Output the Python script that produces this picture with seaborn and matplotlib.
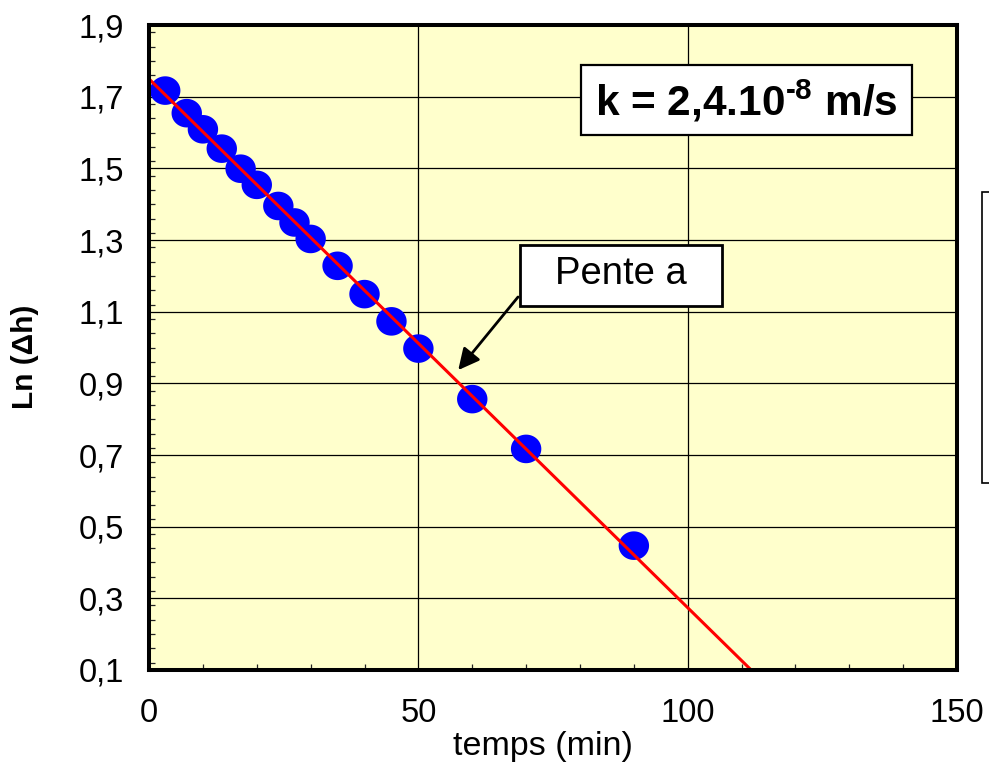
import numpy as np
import pandas as pd
import matplotlib
matplotlib.use("Agg")
import matplotlib.pyplot as plt
from matplotlib.patches import Rectangle
from matplotlib.path import Path
from matplotlib.ticker import FixedLocator, MultipleLocator
import seaborn as sns

# Falling-head test: ln of the head difference against time
temps_min = [3, 7, 10, 13.5, 17, 20, 24, 27, 30, 35, 40, 45, 50, 60, 70, 90]
ln_dh = [1.717, 1.654, 1.609, 1.555, 1.499, 1.454, 1.395, 1.349, 1.303,
         1.228, 1.149, 1.073, 0.997, 0.856, 0.717, 0.447]

x_ticks = [0, 50, 100, 150]
x_tick_labels = ["0", "50", "100", "150"]
y_ticks = [0.1, 0.3, 0.5, 0.7, 0.9, 1.1, 1.3, 1.5, 1.7, 1.9]
y_tick_labels = ["0,1", "0,3", "0,5", "0,7", "0,9", "1,1", "1,3", "1,5", "1,7", "1,9"]

k_label = "k = 2,4.10$^{\\mathbf{\u20108}}$ m/s"
slope_label = "Pente a"
x_label = "temps (min)"
y_label = "Ln (Δh)"

df = pd.DataFrame({"temps": temps_min, "ln_dh": ln_dh})

sns.set_style("white")
plt.rcParams["font.family"] = ["Liberation Sans", "DejaVu Sans"]
plt.rcParams["mathtext.fontset"] = "custom"
plt.rcParams["mathtext.rm"] = "Liberation Sans"
plt.rcParams["mathtext.bf"] = "Liberation Sans:bold"
for key in ("text.color", "axes.labelcolor", "xtick.labelcolor", "ytick.labelcolor"):
    plt.rcParams[key] = "black"

fig = plt.figure(figsize=(9.89, 7.63), dpi=100)
ax = fig.add_axes([0.1507, 0.1219, 0.8170, 0.8453])
ax.set_facecolor("#FFFFCC")

ax.set_xlim(0, 150)
ax.set_ylim(0.1, 1.9)

# slightly flattened disc marker
t = np.linspace(0, 2 * np.pi, 60)
ellipse = Path(np.column_stack([np.cos(t), 0.94 * np.sin(t)]), closed=True)

sns.scatterplot(data=df, x="temps", y="ln_dh", ax=ax, marker=ellipse, s=480,
                color="#0000FF", edgecolor="none", linewidth=0, zorder=3)
sns.regplot(data=df, x="temps", y="ln_dh", ax=ax, scatter=False, ci=None,
            truncate=False, color="#FF0000", line_kws={"lw": 2.2, "zorder": 4})

ax.xaxis.set_major_locator(FixedLocator(x_ticks))
ax.set_xticklabels(x_tick_labels)
ax.yaxis.set_major_locator(FixedLocator(y_ticks))
ax.set_yticklabels(y_tick_labels)
ax.xaxis.set_minor_locator(MultipleLocator(10))
ax.yaxis.set_minor_locator(MultipleLocator(0.04))
ax.set_xlim(0, 150)
ax.set_ylim(0.1, 1.9)

ax.grid(True, which="major", color="black", linewidth=0.9, zorder=1)
ax.set_axisbelow(True)
for sp in ax.spines.values():
    sp.set_visible(True)
    sp.set_color("black")
    sp.set_linewidth(2.9)
    sp.set_zorder(5)

ax.tick_params(which="major", direction="out", length=7, width=0.9,
               color="#444444", labelsize=23.5, labelcolor="black")
ax.tick_params(axis="y", which="major", pad=11)
ax.tick_params(axis="x", which="major", pad=13)
ax.tick_params(which="minor", direction="in", length=4, width=0.9,
               color="#222222", bottom=True, left=True)

ax.set_xlabel(x_label, fontsize=24.5, va="center", color="black")
ax.xaxis.set_label_coords(0.4876, -0.118)
ax.set_ylabel(y_label, fontsize=21.5, fontweight="bold", va="center", color="black")
ax.yaxis.set_label_coords(-0.153, 0.485)

# conductivity box
ax.add_patch(Rectangle((80.12, 1.593), 61.45, 0.1953, facecolor="white",
                       edgecolor="black", linewidth=1.6, zorder=6))
ax.text(110.8, 1.686, k_label, fontsize=30.5, fontweight="bold", color="black",
        ha="center", va="center", zorder=7)

# slope callout
ax.add_patch(Rectangle((68.86, 1.116), 37.5, 0.170, facecolor="white",
                       edgecolor="black", linewidth=2.0, zorder=6))
ax.text(87.6, 1.204, slope_label, fontsize=27.5, color="black",
        ha="center", va="center", zorder=7)
ax.annotate("", xy=(57.4, 0.937), xytext=(68.5, 1.141),
            arrowprops=dict(arrowstyle="-|>", lw=2.0, color="black",
                            mutation_scale=32, shrinkA=0, shrinkB=0),
            zorder=7)

# empty legend frame at the right edge
fig.patches.append(Rectangle((0.9929, 0.367), 0.05, 0.3814, transform=fig.transFigure,
                             facecolor="white", edgecolor="black", linewidth=1.2))

fig.savefig("out.png", dpi=100)
